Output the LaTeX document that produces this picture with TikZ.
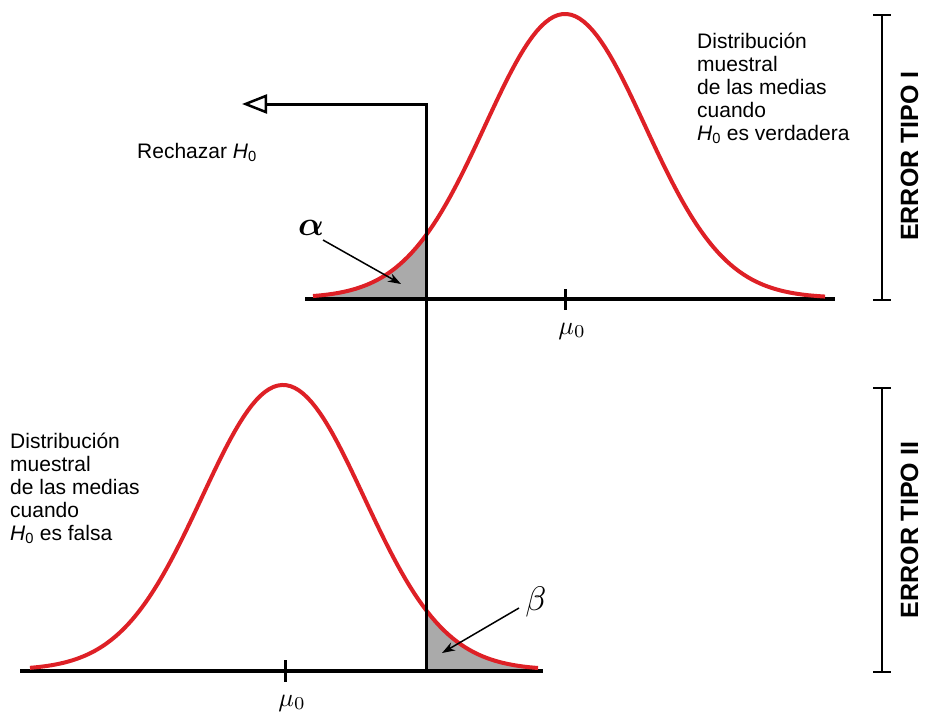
\documentclass[tikz,border=0pt]{standalone}
\usepackage{fontspec}
\usepackage{amsmath,amssymb,bm}
\setmainfont{Liberation Sans}
\usetikzlibrary{arrows.meta, positioning}
\definecolor{curvered}{RGB}{222,32,38}
\definecolor{tailgray}{RGB}{170,170,170}

\begin{document}
\begin{tikzpicture}[x=1pt, y=-1pt,
  axis/.style={line width=4pt},
  bell/.style={draw=curvered, line width=4pt},
  lbl/.style={font=\fontsize{21}{23}\selectfont, align=left, inner sep=0pt, anchor=north west},
  err/.style={font=\bfseries\fontsize{25}{25}\selectfont, rotate=90, inner sep=0pt, anchor=base},
  pointer/.style={-{Stealth[length=13pt,width=9pt]}, line width=1.5pt},
  brack/.style={line width=2pt}]
\useasboundingbox (0,0) rectangle (925,720);

% top: sampling distribution under H0
\fill[tailgray] (313,298) -- plot[domain=313:426, samples=40] (\x, {298-284*exp(-0.5*((\x-565)/80)^2)}) -- (426,298) -- cycle;
\draw[axis] (305,299) -- (835,299);
\draw[bell] plot[domain=313:825, samples=120] (\x, {298-284*exp(-0.5*((\x-565)/80)^2)});
\draw[line width=3pt] (565,289) -- (565,310);
\node (mutop) at (572,331) {\scalebox{2.6}{$\mu_0$}};

% bottom: sampling distribution when H0 is false
\fill[tailgray] (426,670) -- plot[domain=426:538, samples=40] (\x, {670-285*exp(-0.5*((\x-283)/81)^2)}) -- (538,670) -- cycle;
\draw[axis] (20,671) -- (543,671);
\draw[bell] plot[domain=30:538, samples=120] (\x, {670-285*exp(-0.5*((\x-283)/81)^2)});
\draw[line width=3pt] (285,660) -- (285,682);
\node (mubot) at (292,703) {\scalebox{2.6}{$\mu_0$}};

% critical value and rejection region
\coordinate (critbot) at (426,672);
\coordinate (crittop) at (426,104);
\coordinate (rejtip) at (242,104);
\draw[line width=3pt, -{Triangle[open, length=25pt, width=19pt, line width=2.5pt]}] (critbot) -- (crittop) -- (rejtip);
\node[anchor=base west, inner sep=0pt, font=\fontsize{21}{21}\selectfont] (rechazar) at (137,158) {Rechazar \textit{H}\textsubscript{0}};

% alpha and beta
\node (alpha) at (311,228) {\scalebox{3.4}{$\bm{\alpha}$}};
\coordinate (alphatip) at (401,284);
\draw[pointer] (323,240) -- (alphatip);
\node (beta) at (536,602) {\scalebox{3.4}{$\beta$}};
\coordinate (betatip) at (442,653);
\draw[pointer] (519,608) -- (betatip);

% descriptions
\node[lbl] (desctop) at (697,33) {Distribución\\muestral\\de las medias\\cuando\\\textit{H}\textsubscript{0} es verdadera};
\node[lbl] (descbot) at (10,433) {Distribución\\muestral\\de las medias\\cuando\\\textit{H}\textsubscript{0} es falsa};

% error brackets
\draw[brack] (873,15) -- (891,15) (882,15) -- (882,300) (873,300) -- (891,300);
\node[err] (err1) at (918,156) {ERROR TIPO I};
\draw[brack] (873,388) -- (891,388) (882,388) -- (882,672) (873,672) -- (891,672);
\node[err] (err2) at (918,530) {ERROR TIPO II};
\end{tikzpicture}
\end{document}
